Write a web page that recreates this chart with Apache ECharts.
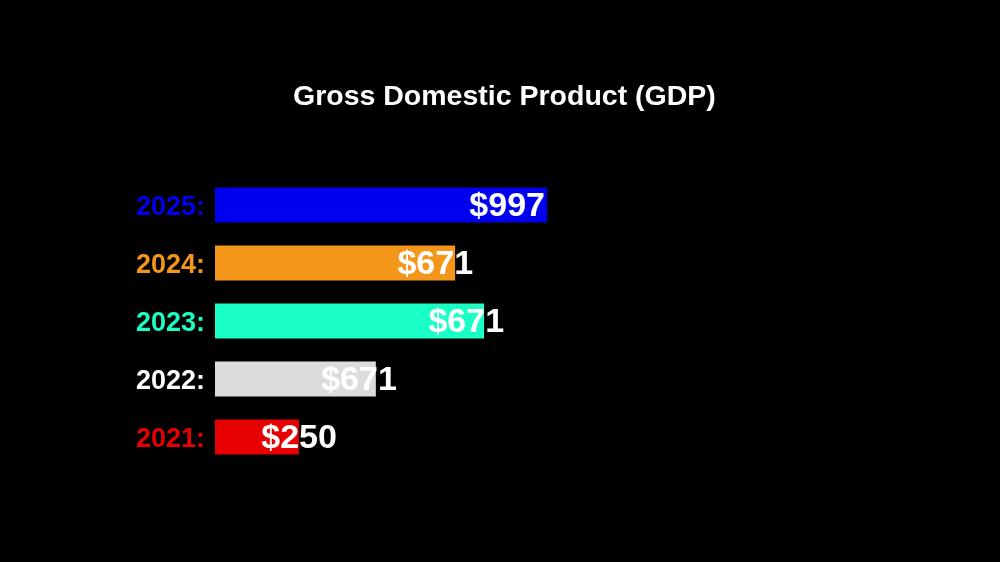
<!DOCTYPE html>
<html>
<head>
<meta charset="utf-8">
<script src="https://cdn.jsdelivr.net/npm/echarts@6/dist/echarts.min.js"></script>
<style>
html,body{margin:0;padding:0;background:#000;}
#chart{width:1000px;height:562px;}
</style>
</head>
<body>
<div id="chart"></div>
<script>
// Data (top to bottom)
const years = ['2025', '2024', '2023', '2022', '2021'];
const barValues = [997, 721, 808, 483, 252];
const valueLabels = ['$997', '$671', '$671', '$671', '$250'];

// Styling
const barColors = ['#0000ee', '#f3961a', '#1affc6', '#dcdcdc', '#e60000'];
const yearColors = ['#0000ee', '#f3961a', '#1affc6', '#ffffff', '#e60000'];
const labelShift = [-2, 18, 20, 21, 38];

const chart = echarts.init(document.getElementById('chart'));
const FONT = '"Liberation Sans", Arial, sans-serif';

const rich = {};
yearColors.forEach((c, i) => {
  rich['y' + i] = {
    color: c, fontSize: 27, fontWeight: 'bold', fontFamily: FONT,
    padding: [5, 0, 0, 0]
  };
});

chart.setOption({
  backgroundColor: '#000000',
  animation: false,
  title: {
    text: 'Gross Domestic Product (GDP)',
    left: 293,
    top: 83,
    padding: 0,
    textStyle: { color: '#ffffff', fontSize: 28.5, fontWeight: 'bold', fontFamily: FONT }
  },
  grid: { left: 215, top: 176, width: 333, height: 290, containLabel: false },
  xAxis: {
    type: 'value', min: 0, max: 1000,
    show: false
  },
  yAxis: {
    type: 'category',
    data: years,
    inverse: true,
    axisLine: { show: false },
    axisTick: { show: false },
    splitLine: { show: false },
    axisLabel: {
      margin: 10,
      formatter: v => '{y' + years.indexOf(v) + '|' + v + ':}',
      rich: rich
    }
  },
  series: [{
    type: 'bar',
    barWidth: 35,
    data: barValues.map((v, i) => ({
      value: v,
      itemStyle: { color: barColors[i] },
      label: {
        show: true,
        position: 'insideRight',
        distance: 0,
        offset: [labelShift[i], 2],
        formatter: () => valueLabels[i],
        color: '#ffffff',
        fontSize: 34,
        fontWeight: 'bold',
        fontFamily: FONT
      }
    }))
  }]
});
</script>
</body>
</html>
